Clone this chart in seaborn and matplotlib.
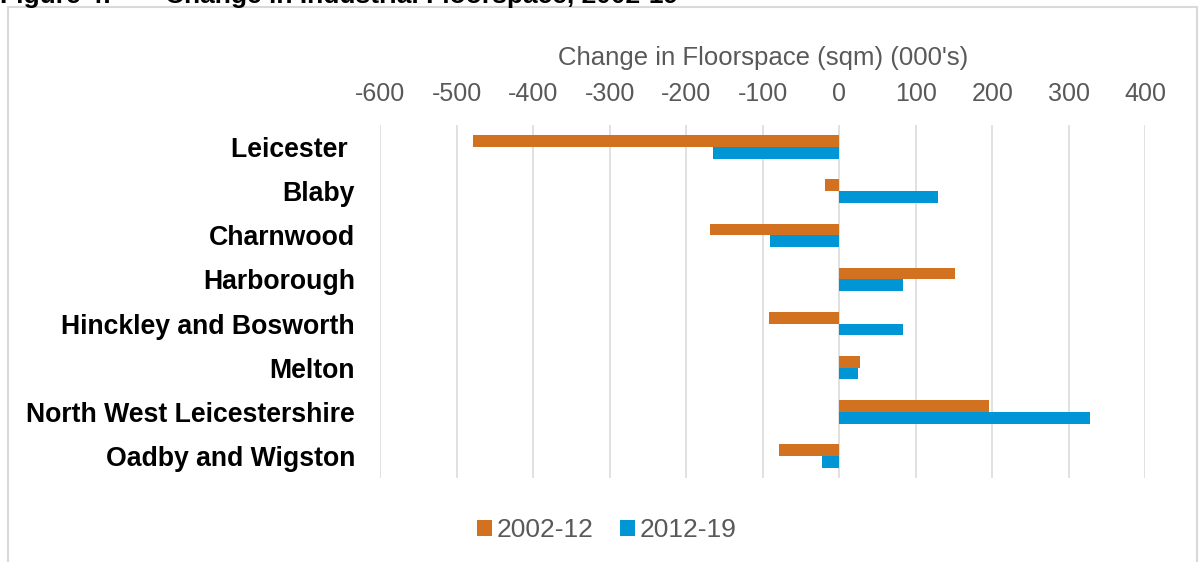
import matplotlib
matplotlib.use("Agg")
import matplotlib.pyplot as plt
import seaborn as sns
import pandas as pd
from matplotlib.patches import Rectangle

areas = ["Leicester ", "Blaby", "Charnwood", "Harborough", "Hinckley and Bosworth",
         "Melton", "North West Leicestershire", "Oadby and Wigston"]
change_2002_12 = [-478, -19, -169, 151, -92, 27, 196, -79]
change_2012_19 = [-165, 129, -91, 84, 83, 25, 328, -23]
periods = ["2002-12", "2012-19"]
xticks = [-600, -500, -400, -300, -200, -100, 0, 100, 200, 300, 400]

df = pd.DataFrame({
    "area": areas * 2,
    "value": change_2002_12 + change_2012_19,
    "period": [periods[0]] * len(areas) + [periods[1]] * len(areas),
})

sns.set_theme(style="white")
plt.rcParams['font.family'] = ['Liberation Sans', 'DejaVu Sans']

W, H = 1199, 562
fig = plt.figure(figsize=(W / 100, H / 100), dpi=100)
ax = fig.add_axes([380 / W, 1 - 478 / H, (1145.3 - 380) / W, (478 - 125) / H])

palette = {"2002-12": "#D2711F", "2012-19": "#0096D6"}
sns.barplot(data=df, y="area", x="value", hue="period", order=areas, hue_order=periods,
            palette=palette, width=0.53, orient="h", ax=ax, saturation=1, linewidth=0)

ax.set_xlim(-600, 400)
ax.set_ylim(7.5, -0.5)
ax.set_xticks(xticks)
ax.set_xticklabels([str(v) for v in xticks])
ax.xaxis.tick_top()
ax.xaxis.set_label_position("top")
ax.set_xlabel("Change in Floorspace (sqm) (000's)", fontsize=18.5, color="#595959")
ax.xaxis.set_label_coords(0.5, 1.17)
ax.set_ylabel("")
ax.tick_params(axis="x", length=0, pad=14, labelsize=18, labelcolor="#595959")
ax.tick_params(axis="y", length=0, pad=18, labelsize=19.2, labelcolor="black")
for lab in ax.get_yticklabels():
    lab.set_fontweight("bold")
ax.grid(axis="x", color="#D9D9D9", linewidth=1.1)
ax.grid(axis="y", visible=False)
ax.set_axisbelow(True)
for s in ax.spines.values():
    s.set_visible(False)

handles, labels = ax.get_legend_handles_labels()
if ax.get_legend() is not None:
    ax.get_legend().remove()
fig.legend(handles, labels, loc="center", bbox_to_anchor=(607 / W, 1 - 530 / H),
           ncol=2, frameon=False, fontsize=19, labelcolor="#595959",
           handlelength=0.55, handleheight=0.55, handletextpad=0.2, columnspacing=1.0)

# chart border
fig.patches.append(Rectangle((8 / W, -0.2), (1197 - 8) / W, 1.2 - 7 / H,
                             transform=fig.transFigure, fill=False,
                             edgecolor="#D9D9D9", linewidth=1.5))

# title, cropped at the top edge as in the reference
fig.text(0.0, 1 - 3 / H, "Figure 4:", fontsize=19, fontweight="bold", color="black",
         va="baseline", ha="left")
fig.text(165 / W, 1 - 3 / H, "Change in Industrial Floorspace, 2002-19", fontsize=19,
         fontweight="bold", color="black", va="baseline", ha="left")

fig.savefig("out.png", dpi=100)
